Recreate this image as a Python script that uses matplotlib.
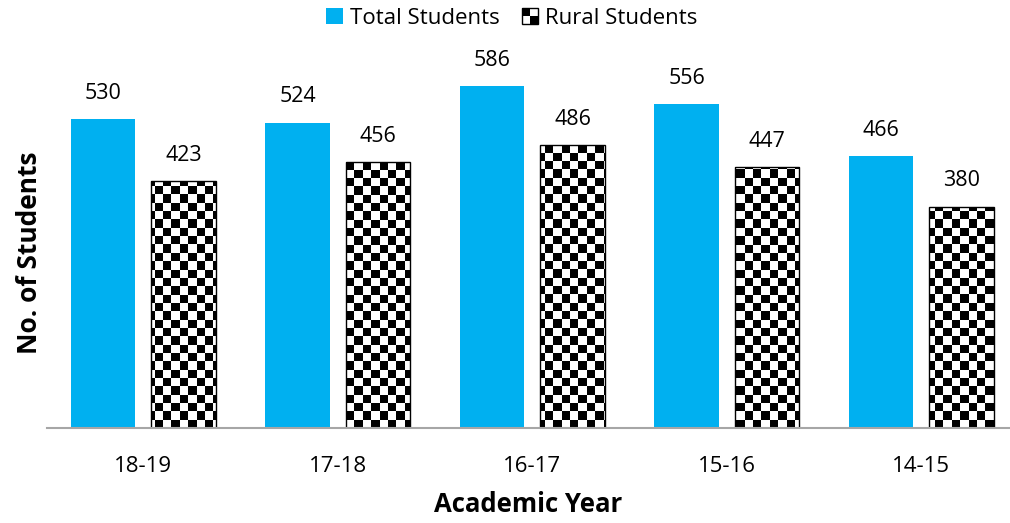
import numpy as np
import matplotlib.pyplot as plt
from matplotlib.patches import Patch, Rectangle
from matplotlib.legend_handler import HandlerBase

years = ['18-19', '17-18', '16-17', '15-16', '14-15']
total = [530, 524, 586, 556, 466]
rural = [423, 456, 486, 447, 380]

plt.rcParams['font.family'] = ['Open Sans', 'DejaVu Sans']


class CheckerHandler(HandlerBase):
    def create_artists(self, legend, orig_handle, xdescent, ydescent, width, height, fontsize, trans):
        x0, y0 = -xdescent, -ydescent
        hw, hh = width / 2, height / 2
        arts = [Rectangle((x0, y0), width, height, facecolor='white', edgecolor='black', lw=1, transform=trans),
                Rectangle((x0, y0 + hh), hw, hh, facecolor='black', lw=0, transform=trans),
                Rectangle((x0 + hw, y0), hw, hh, facecolor='black', lw=0, transform=trans)]
        return arts


fig = plt.figure(figsize=(10.1, 5.23), dpi=100)
ax = fig.add_axes([47 / 1010, 95 / 523, 963 / 1010, 408 / 523])

x = np.arange(len(years))
xmin, xmax = -0.494, -0.494 + 963 / 194.5
ymin, ymax = 0, 700

w = 0.33
blue = '#00B0F0'
b1 = ax.bar(x - 0.206, total, w, color=blue, zorder=2)
b2 = ax.bar(x + 0.208, rural, w, facecolor='none', edgecolor='black', linewidth=1, zorder=3)

# checkerboard fill, clipped to each rural bar
ny = int(round(408 / 8.3))
nx = int(round(963 / 8.3))
board = 1 - (np.add.outer(np.arange(ny), np.arange(nx)) % 2).astype(float)
for bar in b2:
    im = ax.imshow(board, cmap='gray', extent=(xmin, xmax, ymin, ymax), aspect='auto',
                   interpolation='nearest', origin='lower', zorder=2.5)
    im.set_clip_path(bar)
ax.set_xlim(xmin, xmax)
ax.set_ylim(ymin, ymax)

for bar, v in zip(b1, total):
    ax.text(bar.get_x() + bar.get_width() / 2, v + 26, str(v), ha='center', va='bottom', fontsize=15.5)
for bar, v in zip(b2, rural):
    ax.text(bar.get_x() + bar.get_width() / 2, v + 26, str(v), ha='center', va='bottom', fontsize=15.5)

ax.set_xticks(x)
ax.set_xticklabels(years, fontsize=16)
ax.tick_params(axis='x', length=0, pad=20)
ax.set_yticks([])
for s in ['top', 'right', 'left']:
    ax.spines[s].set_visible(False)
ax.spines['bottom'].set_color('#A6A6A6')
ax.spines['bottom'].set_linewidth(1.5)
ax.spines['bottom'].set_zorder(4)

ax.set_xlabel('Academic Year', fontsize=18.5, fontweight='bold', labelpad=10)
fig.text(30 / 1010, 1 - 253 / 523, 'No. of Students', rotation=90, fontsize=19, fontweight='bold',
         ha='center', va='center')

handles = [Patch(facecolor=blue), Patch()]
fig.legend(handles, ['Total Students', 'Rural Students'], loc='center', bbox_to_anchor=(512 / 1010, 1 - 18 / 523),
           ncol=2, frameon=False, fontsize=16, handlelength=0.75, handleheight=0.75, handletextpad=0.3,
           columnspacing=1.0, handler_map={handles[1]: CheckerHandler()})

fig.savefig('out.png', dpi=100)
